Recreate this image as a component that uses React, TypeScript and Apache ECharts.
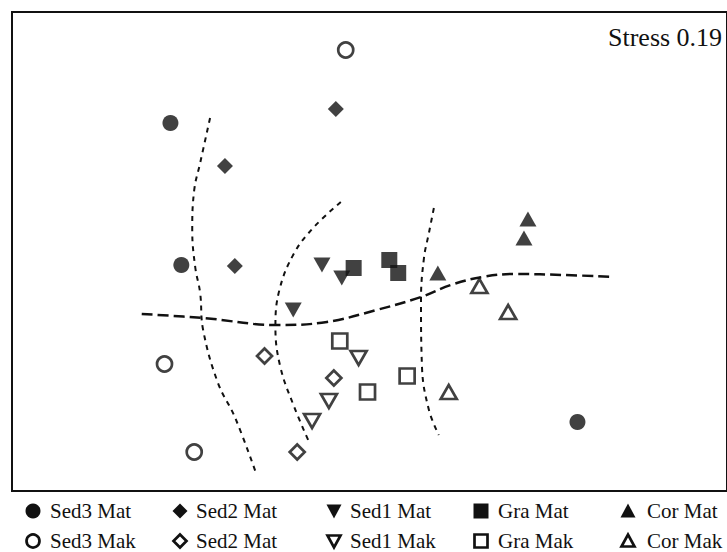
import React, { useEffect, useRef } from "react";
import * as echarts from "echarts";

// NMDS ordination scores (axis 1 to the right, axis 2 downward as drawn)
const sed3Mat = [[172, 123], [183, 265], [583, 422]];
const sed3Mak = [[349, 50], [166, 364], [196, 452]];
const sed2Mat = [[339, 109], [227, 166], [237, 266]];
const sed2Mak = [[267, 356], [337, 378], [300, 452]];
const sed1Mat = [[325, 265], [345, 278], [296, 310]];
const sed1Mak = [[362, 358], [332, 401], [315, 421]];
const graMat = [[357, 268], [393, 260], [402, 273]];
const graMak = [[343, 341], [411, 376], [371, 392]];
const corMat = [[442, 273], [533, 219], [529, 238]];
const corMak = [[484, 286], [513, 312], [453, 392]];

// separating curves
const dashedCurve = [[143, 314], [205, 318], [280, 325], [330, 322], [380, 310], [425, 297], [455, 285], [487, 277], [520, 274], [570, 275], [620, 277]];
const dotted1 = [[212, 118], [202, 163], [196, 190], [194, 230], [197, 267], [202, 293], [205, 330], [220, 383], [237, 417], [258, 472]];
const dotted2 = [[344, 202], [317, 227], [297, 253], [282, 290], [278, 327], [283, 367], [297, 407], [312, 442]];
const dotted3 = [[438, 208], [433, 233], [428, 258], [425, 300], [426, 367], [433, 410], [443, 435]];

const legendRow1 = ["Sed3 Mat", "Sed2 Mat", "Sed1 Mat", "Gra Mat", "Cor Mat"];
const legendRow2 = ["Sed3 Mak", "Sed2 Mat", "Sed1 Mak", "Gra Mak", "Cor Mak"];
const stressLabel = "Stress 0.19";

const INK = "#111111";
const FONT = "'Liberation Serif', 'DejaVu Serif', serif";

export default function App() {
  const ref = useRef<HTMLDivElement>(null);
  useEffect(() => {
    if (!ref.current) return;
    const chart = echarts.init(ref.current, null, { renderer: "svg" });

    const filled = { color: INK };
    const open = { color: "#fff", borderColor: INK, borderWidth: 2.7 };

    const pts = (name: string, data: number[][], symbol: string, size: any, style: any, rotate = 0) => ({
      type: "scatter",
      name,
      data,
      symbol,
      symbolSize: size,
      symbolRotate: rotate,
      itemStyle: style,
      z: 5,
      silent: true,
    });
    const curve = (data: number[][], dash: number[], width: number) => ({
      type: "line",
      data,
      smooth: 0.4,
      symbol: "none",
      lineStyle: { color: INK, width, type: dash },
      z: 2,
      silent: true,
    });

    // legend graphics
    const colX = [33, 180, 334, 481, 628];
    const textX = [50, 196, 350, 498, 647];
    const rowY = [511, 541];
    const s = 7.5;
    const markerFor = (col: number, row: number) => {
      const cx = colX[col];
      const cy = rowY[row];
      const st = row === 0 ? { fill: INK } : { fill: "#fff", stroke: INK, lineWidth: 2.7 };
      const r = row === 0 ? s : s - 1;
      switch (col) {
        case 0:
          return { type: "circle", shape: { cx, cy, r }, style: st };
        case 1:
          return { type: "polygon", shape: { points: [[cx, cy - r], [cx + r, cy], [cx, cy + r], [cx - r, cy]] }, style: st };
        case 2:
          return { type: "polygon", shape: { points: [[cx - r, cy - r + 1], [cx + r, cy - r + 1], [cx, cy + r]] }, style: st };
        case 3:
          return { type: "rect", shape: { x: cx - r, y: cy - r, width: 2 * r, height: 2 * r }, style: st };
        default:
          return { type: "polygon", shape: { points: [[cx - r, cy + r - 1], [cx + r, cy + r - 1], [cx, cy - r]] }, style: st };
      }
    };
    const legendEls: any[] = [];
    [legendRow1, legendRow2].forEach((row, ri) => {
      row.forEach((label, ci) => {
        legendEls.push(markerFor(ci, ri));
        legendEls.push({
          type: "text",
          x: textX[ci],
          y: rowY[ri],
          style: { text: label, fill: INK, font: `21px ${FONT}`, verticalAlign: "middle", align: "left" },
        });
      });
    });

    chart.setOption({
      animation: false,
      backgroundColor: "#fff",
      grid: { left: 12, top: 12, width: 722, height: 479, show: true, borderColor: INK, borderWidth: 2, backgroundColor: "transparent" },
      xAxis: { type: "value", min: 12, max: 734, show: false },
      yAxis: { type: "value", min: 12, max: 491, inverse: true, show: false },
      series: [
        curve(dashedCurve, [11, 5], 2.5),
        curve(dotted1, [5, 5], 2),
        curve(dotted2, [5, 5], 2),
        curve(dotted3, [5, 5], 2),
        pts("Sed3 Mat", sed3Mat, "circle", 16, filled),
        pts("Sed3 Mak", sed3Mak, "circle", 15, open),
        pts("Sed2 Mat", sed2Mat, "diamond", 16, filled),
        pts("Sed2 Mak", sed2Mak, "diamond", 15, open),
        pts("Sed1 Mat", sed1Mat, "triangle", [17, 15], filled, 180),
        pts("Sed1 Mak", sed1Mak, "triangle", [16, 14], open, 180),
        pts("Gra Mat", graMat, "rect", 16, filled),
        pts("Gra Mak", graMak, "rect", 15, open),
        pts("Cor Mat", corMat, "triangle", [17, 15], filled),
        pts("Cor Mak", corMak, "triangle", [16, 14], open),
      ],
      graphic: [
        {
          type: "text",
          x: 608,
          y: 37,
          style: { text: stressLabel, fill: INK, font: `26px ${FONT}`, verticalAlign: "middle", align: "left" },
        },
        ...legendEls,
      ],
    });
    return () => chart.dispose();
  }, []);
  return (
    <div
      ref={ref}
      style={{ position: "fixed", left: 0, top: 0, width: 727, height: 552, background: "#fff" }}
    />
  );
}
